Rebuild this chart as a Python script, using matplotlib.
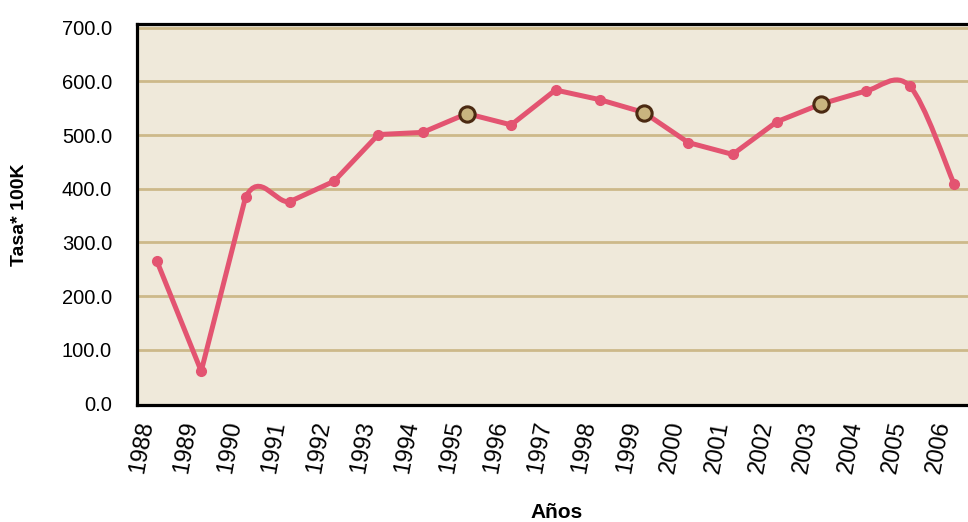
import matplotlib
matplotlib.use('Agg')
import matplotlib.pyplot as plt
from matplotlib.path import Path
from matplotlib.patches import PathPatch

# Datos
anios = ['1988', '1989', '1990', '1991', '1992', '1993', '1994', '1995', '1996', '1997',
         '1998', '1999', '2000', '2001', '2002', '2003', '2004', '2005', '2006']
tasa = [265, 60, 384, 376, 414, 501, 505, 540, 519, 584,
        566, 542, 486, 464, 525, 558, 582, 591, 409]
# anios resaltados con marcador claro
resaltados = ['1995', '1999', '2003']
# tramos que en el original salen suavizados (anio de inicio del tramo)
tramos_suaves = ['1990', '2004', '2005']

fuente = ['Liberation Sans', 'DejaVu Sans']
color_linea = '#E35471'


def trazo(xs, ys, suaves):
    """Une los puntos con rectas, salvo los tramos marcados, que van con curva Bezier."""
    n = len(xs)
    verts = [(xs[0], ys[0])]
    codes = [Path.MOVETO]
    for i in range(n - 1):
        x1, y1 = xs[i], ys[i]
        x2, y2 = xs[i + 1], ys[i + 1]
        if i not in suaves:
            verts.append((x2, y2))
            codes.append(Path.LINETO)
            continue
        x0, y0 = (xs[i - 1], ys[i - 1]) if i > 0 else (x1, y1)
        x3, y3 = (xs[i + 2], ys[i + 2]) if i + 2 < n else (x2, y2)
        c1 = (x1 + (x2 - x0) / 6.0, y1 + (y2 - y0) / 6.0)
        c2 = (x2 - (x3 - x1) / 6.0, y2 - (y3 - y1) / 6.0)
        verts += [c1, c2, (x2, y2)]
        codes += [Path.CURVE4] * 3
    return Path(verts, codes)


fig = plt.figure(figsize=(9.68, 5.22), dpi=100)
ax = fig.add_axes([137 / 968, 117 / 522, 837 / 968, 381 / 522])
ax.set_facecolor('#EFE9DA')

x = list(range(len(anios)))
ax.set_xlim(-0.45, len(anios) - 0.55)
ax.set_ylim(-3, 707)

# lineas de cuadricula
for v in range(100, 701, 100):
    ax.axhline(v, color='#CDB98A', lw=2.0, zorder=1)

# linea
idx_suaves = [anios.index(a) for a in tramos_suaves]
ax.add_patch(PathPatch(trazo(x, tasa, idx_suaves), facecolor='none', edgecolor=color_linea,
                       lw=3.6, capstyle='round', joinstyle='round', zorder=3))

# marcadores
normales = [i for i, a in enumerate(anios) if a not in resaltados]
especiales = [i for i, a in enumerate(anios) if a in resaltados]
ax.plot([x[i] for i in normales], [tasa[i] for i in normales], 'o', ms=7,
        color=color_linea, zorder=4)
ax.plot([x[i] for i in especiales], [tasa[i] for i in especiales], 'o', ms=11,
        markerfacecolor='#C9B47F', markeredgecolor='#4B2A12', markeredgewidth=2.2, zorder=5)

# ejes
ax.set_yticks(range(0, 701, 100))
ax.set_yticklabels([f'{v:.1f}' for v in range(0, 701, 100)], family=fuente, fontsize=14.5)
ax.set_xticks(x)
ax.set_xticklabels(anios, family=fuente, fontsize=17, rotation=80, ha='right', va='top')
ax.tick_params(axis='y', length=0, pad=18)
ax.tick_params(axis='x', length=0, pad=10)
for lado in ['left', 'top', 'bottom']:
    ax.spines[lado].set_linewidth(2.3)
    ax.spines[lado].set_color('black')
ax.spines['right'].set_visible(False)

fig.text(20 / 968, 1 - 215 / 522, 'Tasa* 100K', rotation=90, ha='center', va='center',
         family=fuente, fontsize=14, fontweight='bold')
fig.text(557 / 968, 1 - 512 / 522, 'Años', ha='center', va='center',
         family=fuente, fontsize=15, fontweight='bold')

fig.savefig('out.png', dpi=100)
